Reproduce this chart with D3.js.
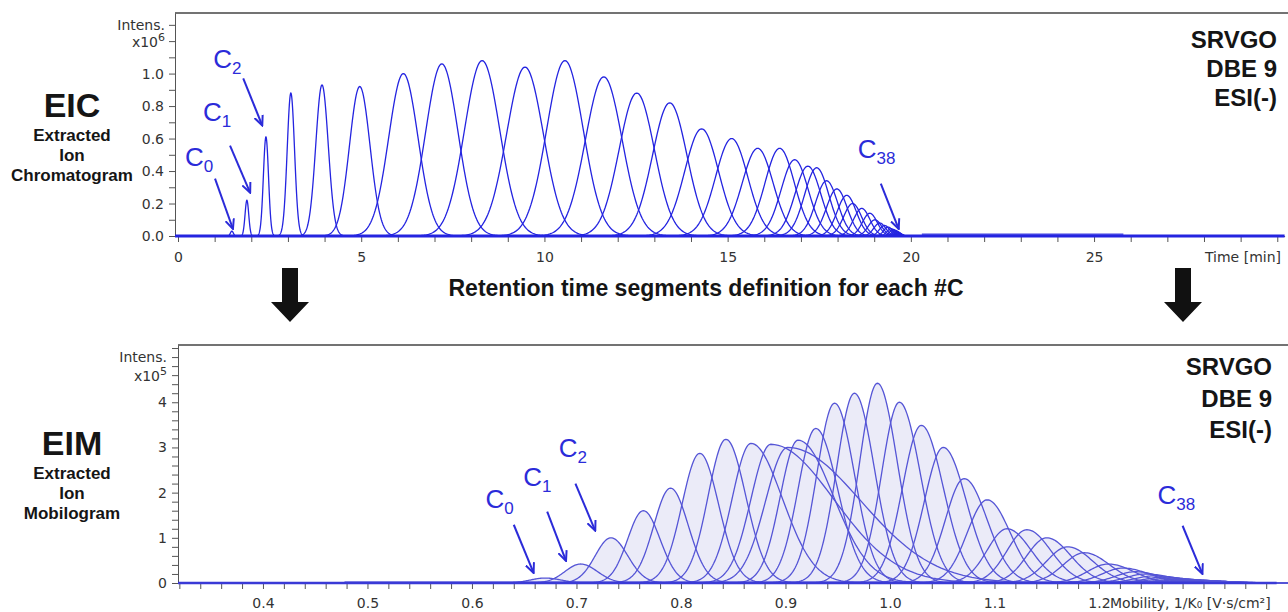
<!DOCTYPE html>
<html>
<head>
<meta charset="utf-8">
<script src="https://cdn.jsdelivr.net/npm/d3@7"></script>
<style>
  body { margin: 0; background: #fff; }
  svg { display: block; font-family: "DejaVu Sans", Verdana, sans-serif; }
  .axis path, .axis line { stroke: #555; }
  .axis text { fill: #333; font-size: 14px; font-family: "DejaVu Sans", Verdana, sans-serif; }
  .big { font-family: "Liberation Sans", Arial, sans-serif; font-weight: bold; fill: #151515; }
  .note { font-family: "Liberation Sans", Arial, sans-serif; fill: #2b2bd9; }
</style>
</head>
<body>
<div id="chart"></div>
<script>
// --- EIC (top): apex time [min], apex intensity [x10^6], peak sigma [min], C0..C38
const eicTime = [1.47, 1.88, 2.40, 3.08, 3.93, 4.96, 6.15, 7.20, 8.30, 9.47,
  10.56, 11.62, 12.52, 13.42, 14.29, 15.11, 15.82, 16.42, 16.83, 17.19,
  17.43, 17.70, 17.98, 18.25, 18.41, 18.66, 18.88, 19.02, 19.15, 19.28,
  19.38, 19.46, 19.52, 19.57, 19.61, 19.64, 19.67, 19.69, 19.71];
const eicHeight = [0.03, 0.22, 0.61, 0.88, 0.93, 0.92, 1.00, 1.06, 1.08, 1.04,
  1.08, 0.98, 0.88, 0.82, 0.66, 0.60, 0.54, 0.54, 0.47, 0.43,
  0.42, 0.34, 0.29, 0.25, 0.20, 0.17, 0.14, 0.10, 0.08, 0.065,
  0.055, 0.045, 0.04, 0.035, 0.03, 0.025, 0.02, 0.015, 0.012];
const eicSigma = [0.04, 0.05, 0.07, 0.10, 0.17, 0.28, 0.40, 0.44, 0.48, 0.50,
  0.50, 0.50, 0.48, 0.47, 0.46, 0.44, 0.42, 0.40, 0.37, 0.35,
  0.33, 0.30, 0.28, 0.26, 0.24, 0.22, 0.20, 0.18, 0.16, 0.14,
  0.12, 0.11, 0.10, 0.09, 0.09, 0.08, 0.08, 0.07, 0.07];
const eicNoise = [20.3, 25.8];

// --- EIM (bottom): apex mobility 1/K0, apex intensity [x10^5], left/right sigma
const eimMobility = [0.670, 0.704, 0.733, 0.764, 0.790, 0.818, 0.843, 0.867, 0.886, 0.902,
  0.912, 0.929, 0.947, 0.966, 0.988, 1.009, 1.030, 1.051, 1.071, 1.093,
  1.112, 1.131, 1.150, 1.170, 1.186, 1.209, 1.223, 1.235, 1.245, 1.254,
  1.262, 1.269, 1.276, 1.282, 1.288, 1.293, 1.297, 1.301, 1.305];
const eimHeight = [0.11, 0.42, 1.00, 1.60, 2.10, 2.87, 3.18, 3.09, 3.07, 3.00,
  3.16, 3.42, 3.98, 4.20, 4.42, 4.00, 3.49, 3.00, 2.31, 1.84,
  1.20, 1.18, 1.00, 0.80, 0.67, 0.42, 0.33, 0.25, 0.20, 0.16,
  0.13, 0.11, 0.09, 0.08, 0.07, 0.06, 0.05, 0.045, 0.04];
const eimSigmaL = [0.014, 0.015, 0.015, 0.015, 0.016, 0.017, 0.017, 0.018, 0.019, 0.021,
  0.017, 0.017, 0.017, 0.017, 0.017, 0.017, 0.018, 0.018, 0.018, 0.019,
  0.019, 0.019, 0.019, 0.020, 0.020, 0.020, 0.020, 0.019, 0.019, 0.019,
  0.019, 0.020, 0.020, 0.020, 0.020, 0.021, 0.021, 0.021, 0.022];
const eimSigmaR = [0.015, 0.016, 0.016, 0.016, 0.017, 0.018, 0.019, 0.030, 0.060, 0.070,
  0.034, 0.021, 0.019, 0.019, 0.019, 0.020, 0.021, 0.022, 0.022, 0.022,
  0.023, 0.023, 0.023, 0.024, 0.024, 0.024, 0.025, 0.023, 0.024, 0.024,
  0.024, 0.025, 0.025, 0.025, 0.026, 0.026, 0.026, 0.027, 0.027];
const eimNoise = [0.478, 1.30];

// ticks
const eicMajor = [0, 5, 10, 15, 20, 25];
const eimMajor = [0.4, 0.5, 0.6, 0.7, 0.8, 0.9, 1.0, 1.1, 1.2];
const sampleLines = ["SRVGO", "DBE 9", "ESI(-)"];

// arrows to selected carbon numbers, in data units
const eicNotes = [
  { sub: "0", tx: 0.19, ty: 0.433, from: [1.01, 0.353], to: [1.50, 0.043] },
  { sub: "1", tx: 0.68, ty: 0.711, from: [1.42, 0.557], to: [1.97, 0.266] },
  { sub: "2", tx: 0.96, ty: 1.033, from: [1.78, 0.971], to: [2.30, 0.680] },
  { sub: "38", tx: 18.55, ty: 0.482, from: [19.18, 0.322], to: [19.67, 0.043] }
];
const eimNotes = [
  { sub: "0", tx: 0.613, ty: 1.667, from: [0.640, 1.289], to: [0.659, 0.222] },
  { sub: "1", tx: 0.649, ty: 2.156, from: [0.672, 1.578], to: [0.690, 0.489] },
  { sub: "2", tx: 0.683, ty: 2.778, from: [0.699, 2.200], to: [0.718, 1.156] },
  { sub: "38", tx: 1.256, ty: 1.756, from: [1.280, 1.267], to: [1.299, 0.200] }
];

const W = 1288, H = 612;
const svg = d3.select("#chart").append("svg").attr("width", W).attr("height", H);

svg.append("defs").append("marker")
  .attr("id", "head").attr("viewBox", "0 0 10 10")
  .attr("refX", 9).attr("refY", 5)
  .attr("markerWidth", 11).attr("markerHeight", 11)
  .attr("markerUnits", "userSpaceOnUse").attr("orient", "auto")
  .append("path").attr("d", "M0,1 L9,5 L0,9")
  .attr("fill", "none").attr("stroke", "#2b2bd9").attr("stroke-width", 1.8);

// gaussian peak points, left/right sigma
function peak(c, h, sl, sr) {
  const pts = [];
  for (let i = -70; i <= 70; i++) {
    const s = i < 0 ? sl : sr;
    const t = c + (i / 70) * 4.2 * s;
    pts.push([t, h * Math.exp(-0.5 * ((t - c) / s) ** 2)]);
  }
  return pts;
}

// ===================== EIC =====================
const xT = d3.scaleLinear().domain([-0.082, 30.2]).range([175, 1284.6]);
const yT = d3.scaleLinear().domain([0, 1.373]).range([236, 13]);

const gT = svg.append("g");
gT.append("line").attr("x1", 175).attr("x2", W).attr("y1", 13).attr("y2", 13)
  .attr("stroke", "#444").attr("stroke-width", 1.5);

const yTicksT = d3.range(0, 14).map(i => i / 10);
gT.append("g").attr("class", "axis").attr("transform", "translate(175,0)")
  .call(d3.axisLeft(yT).tickValues(yTicksT).tickSize(6).tickSizeOuter(0).tickPadding(5)
    .tickFormat(d => (Math.round(d * 10) % 2 === 0 && d <= 1.0001) ? d.toFixed(1) : ""));

const xTicksT = d3.range(0, 31);
gT.append("g").attr("class", "axis").attr("transform", "translate(0,236)")
  .call(d3.axisBottom(xT).tickValues(xTicksT).tickSize(6).tickSizeOuter(0).tickPadding(10)
    .tickFormat(d => eicMajor.includes(d) ? d : ""));

gT.append("text").attr("x", 165).attr("y", yT(1.3)).attr("dy", "0.35em")
  .attr("text-anchor", "end").attr("fill", "#333").attr("font-size", 14).text("Intens.");
const e6 = gT.append("text").attr("x", 165).attr("y", yT(1.2)).attr("dy", "0.4em")
  .attr("text-anchor", "end").attr("fill", "#333").attr("font-size", 14);
e6.append("tspan").text("x10");
e6.append("tspan").attr("font-size", 11).attr("dy", "-0.55em").text("6");

gT.append("text").attr("x", 1281).attr("y", 262).attr("text-anchor", "end")
  .attr("fill", "#333").attr("font-size", 14).text("Time [min]");

const lineT = d3.line().x(d => xT(d[0])).y(d => yT(d[1]));
gT.append("g").selectAll("path")
  .data(eicTime.map((t, i) => peak(t, eicHeight[i], eicSigma[i], eicSigma[i])))
  .join("path").attr("d", lineT)
  .attr("fill", "none").attr("stroke", "#2424e0").attr("stroke-width", 1.3);

gT.append("rect").attr("x", xT(eicNoise[0])).attr("width", xT(eicNoise[1]) - xT(eicNoise[0]))
  .attr("y", yT(0.016)).attr("height", yT(0) - yT(0.016)).attr("fill", "#3a3ae0").attr("opacity", 0.8);
gT.append("line").attr("x1", xT(-0.082)).attr("x2", xT(30.2)).attr("y1", yT(0)).attr("y2", yT(0))
  .attr("stroke", "#2424e0").attr("stroke-width", 3);

// ===================== EIM =====================
const xB = d3.scaleLinear().domain([0.3187, 1.378]).range([178, 1285]);
const yB = d3.scaleLinear().domain([0, 5.267]).range([583, 345]);

const gB = svg.append("g");
gB.append("line").attr("x1", 178).attr("x2", W).attr("y1", 345).attr("y2", 345)
  .attr("stroke", "#444").attr("stroke-width", 1.5);

const yTicksB = d3.range(0, 27).map(i => i / 5);
gB.append("g").attr("class", "axis").attr("transform", "translate(178,0)")
  .call(d3.axisLeft(yB).tickValues(yTicksB).tickSize(6).tickSizeOuter(0).tickPadding(5)
    .tickFormat(d => (Number.isInteger(d) && d <= 4) ? d : ""));

const xTicksB = d3.range(16, 69).map(i => i / 50);
gB.append("g").attr("class", "axis").attr("transform", "translate(0,583)")
  .call(d3.axisBottom(xB).tickValues(xTicksB).tickSize(6).tickSizeOuter(0).tickPadding(9)
    .tickFormat(d => eimMajor.some(m => Math.abs(m - d) < 1e-6) ? d.toFixed(1) : ""));

gB.append("text").attr("x", 167).attr("y", yB(5.0)).attr("dy", "0.35em")
  .attr("text-anchor", "end").attr("fill", "#333").attr("font-size", 14).text("Intens.");
const e5 = gB.append("text").attr("x", 167).attr("y", yB(4.6)).attr("dy", "0.4em")
  .attr("text-anchor", "end").attr("fill", "#333").attr("font-size", 14);
e5.append("tspan").text("x10");
e5.append("tspan").attr("font-size", 11).attr("dy", "-0.55em").text("5");

gB.append("text").attr("x", xB(1.2) + 11).attr("y", 608)
  .attr("fill", "#333").attr("font-size", 14).text("Mobility, 1/K\u2080 [V\u00b7s/cm\u00b2]");

const eimPeaks = eimMobility.map((m, i) => peak(m, eimHeight[i], eimSigmaL[i], eimSigmaR[i]));
const areaB = d3.area().x(d => xB(d[0])).y0(yB(0)).y1(d => yB(d[1]));
const lineB = d3.line().x(d => xB(d[0])).y(d => yB(d[1]));
gB.append("g").selectAll("path").data(eimPeaks).join("path")
  .attr("d", areaB).attr("fill", "#ebebf8");
gB.append("g").selectAll("path").data(eimPeaks).join("path")
  .attr("d", lineB).attr("fill", "none").attr("stroke", "#5555d6").attr("stroke-width", 1.3);

gB.append("rect").attr("x", xB(eimNoise[0])).attr("width", xB(eimNoise[1]) - xB(eimNoise[0]))
  .attr("y", yB(0.04)).attr("height", yB(0) - yB(0.04)).attr("fill", "#4646d8").attr("opacity", 0.7);
gB.append("line").attr("x1", xB(0.3187)).attr("x2", xB(1.37)).attr("y1", yB(0)).attr("y2", yB(0))
  .attr("stroke", "#3a3ad6").attr("stroke-width", 2.5);

// ===================== annotations =====================
function notes(g, list, x, y) {
  list.forEach(n => {
    const t = g.append("text").attr("class", "note").attr("x", x(n.tx)).attr("y", y(n.ty)).attr("font-size", 26);
    t.append("tspan").text("C");
    t.append("tspan").attr("font-size", 17).attr("dy", 6).text(n.sub);
    g.append("line")
      .attr("x1", x(n.from[0])).attr("y1", y(n.from[1]))
      .attr("x2", x(n.to[0])).attr("y2", y(n.to[1]))
      .attr("stroke", "#2b2bd9").attr("stroke-width", 2).attr("marker-end", "url(#head)");
  });
}
notes(gT, eicNotes, xT, yT);
notes(gB, eimNotes, xB, yB);

// side titles
function sideTitle(cx, y0, big, lines) {
  svg.append("text").attr("class", "big").attr("x", cx).attr("y", y0)
    .attr("text-anchor", "middle").attr("font-size", 34).text(big);
  lines.forEach((s, i) => svg.append("text").attr("class", "big").attr("x", cx).attr("y", y0 + 24 + i * 20)
    .attr("text-anchor", "middle").attr("font-size", 17).text(s));
}
sideTitle(72, 117, "EIC", ["Extracted", "Ion", "Chromatogram"]);
sideTitle(72, 455, "EIM", ["Extracted", "Ion", "Mobilogram"]);

function sampleBox(xr, y0, gap) {
  sampleLines.forEach((s, i) => svg.append("text").attr("class", "big").attr("x", xr).attr("y", y0 + i * gap)
    .attr("text-anchor", "end").attr("font-size", 24).text(s));
}
sampleBox(1277, 48, 29);
sampleBox(1272, 375, 31.5);

// middle caption and block arrows
svg.append("text").attr("class", "big").attr("x", 706).attr("y", 296)
  .attr("text-anchor", "middle").attr("font-size", 23)
  .text("Retention time segments definition for each #C");

[290, 1183].forEach(cx => {
  const p = d3.path();
  p.moveTo(cx - 8, 268); p.lineTo(cx + 8, 268); p.lineTo(cx + 8, 302);
  p.lineTo(cx + 19, 302); p.lineTo(cx, 322); p.lineTo(cx - 19, 302);
  p.lineTo(cx - 8, 302); p.closePath();
  svg.append("path").attr("d", p.toString()).attr("fill", "#111");
});
</script>
</body>
</html>
